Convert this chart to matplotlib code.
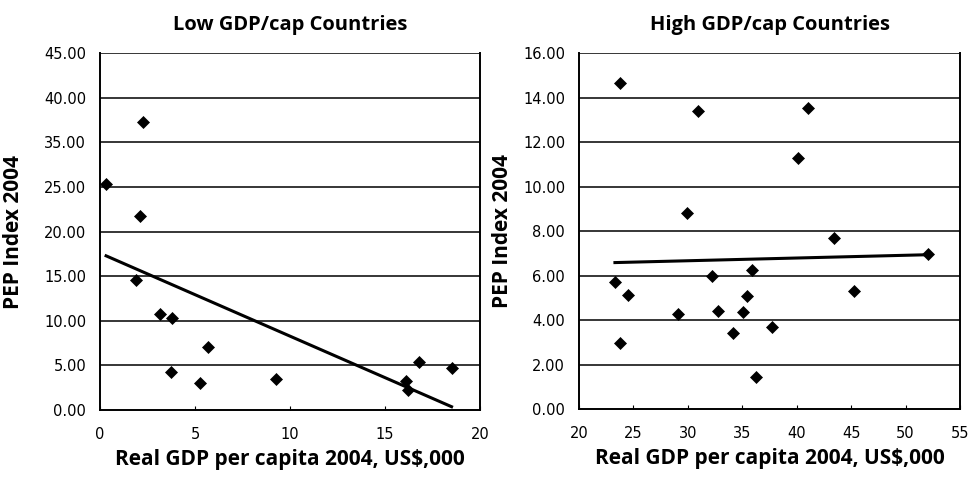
import numpy as np
import matplotlib.pyplot as plt

plt.rcParams['font.family'] = ['Open Sans', 'DejaVu Sans']

# low GDP/cap countries (x: GDP per capita US$000, y: PEP index, axis units)
low_gdp = [0.32, 2.25, 2.1, 1.88, 3.16, 3.8, 3.72, 5.67, 5.26, 9.26, 16.1, 16.2, 16.8, 18.5]
low_pep = [25.3, 32.25, 21.8, 14.6, 10.8, 10.3, 4.3, 7.1, 3.0, 3.5, 3.3, 2.2, 5.35, 4.7]
low_yticks = [0, 5, 10, 15, 20, 25, 30, 35, 40]
low_ylabels = ['0.00', '5.00', '10.00', '15.00', '20.00', '25.00', '35.00', '40.00', '45.00']
low_xticks = [0, 5, 10, 15, 20]

# high GDP/cap countries
high_gdp = [23.8, 30.9, 41.0, 40.1, 29.9, 43.4, 52.1, 23.3, 24.5, 32.2,
            35.9, 35.4, 32.8, 35.1, 29.1, 34.1, 37.7, 23.8, 36.3, 45.3]
high_pep = [14.68, 13.4, 13.55, 11.3, 8.84, 7.68, 6.98, 5.71, 5.14, 6.0,
            6.26, 5.09, 4.43, 4.39, 4.28, 3.44, 3.71, 2.97, 1.47, 5.32]
high_yticks = [0, 2, 4, 6, 8, 10, 12, 14, 16]
high_ylabels = ['%.2f' % v for v in high_yticks]
high_xticks = [20, 25, 30, 35, 40, 45, 50, 55]

fig = plt.figure(figsize=(9.72, 4.79), dpi=100)
ax1 = fig.add_axes([0.1029, 0.144, 0.391, 0.7447])
ax2 = fig.add_axes([0.5957, 0.1455, 0.392, 0.743])


def draw(ax, x, y, xticks, yticks, ylabels, title, ylab_x):
    x = np.array(x)
    y = np.array(y)
    ax.set_xlim(xticks[0], xticks[-1])
    ax.set_ylim(yticks[0], yticks[-1])
    ax.set_yticks(yticks)
    ax.set_yticklabels(ylabels)
    ax.set_xticks(xticks)
    for v in yticks[1:]:
        ax.axhline(v, color='black', lw=1.1, zorder=1)
    ax.plot(x, y, 'D', color='black', ms=6.3, mew=0.5, zorder=3)
    # linear trend line over the data range
    k, b = np.polyfit(x, y, 1)
    xs = np.array([x.min(), x.max()])
    ax.plot(xs, k * xs + b, color='black', lw=2.2, zorder=2)
    ax.spines['top'].set_visible(False)
    for s in ['left', 'right', 'bottom']:
        ax.spines[s].set_linewidth(1.4)
    ax.tick_params(axis='y', length=0, pad=10, labelsize=10.5)
    ax.tick_params(axis='x', direction='in', length=3, pad=12, labelsize=10.5)
    for lab in ax.get_xticklabels() + ax.get_yticklabels():
        lab.set_family('DejaVu Sans')
    ax.set_title(title, fontsize=14.5, fontweight='bold', pad=17)
    ax.set_xlabel('Real GDP per capita 2004, US$,000', fontsize=15, fontweight='bold')
    ax.set_ylabel('PEP Index 2004', fontsize=15, fontweight='bold')
    ax.xaxis.set_label_coords(0.5, -0.11)
    ax.yaxis.set_label_coords(ylab_x, 0.5)


draw(ax1, low_gdp, low_pep, low_xticks, low_yticks, low_ylabels,
     'Low GDP/cap Countries', -0.2)
draw(ax2, high_gdp, high_pep, high_xticks, high_yticks, high_ylabels,
     'High GDP/cap Countries', -0.172)

plt.savefig('out.png', dpi=100)
